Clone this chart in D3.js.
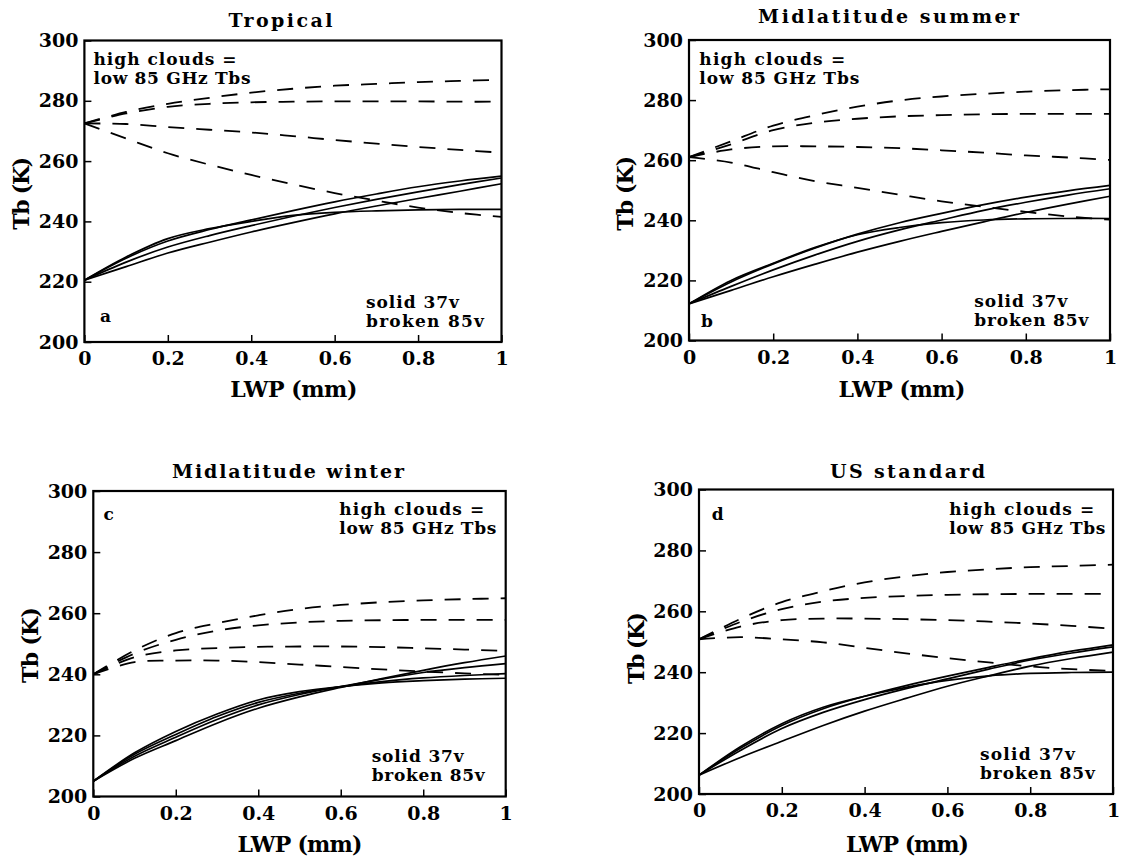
<!DOCTYPE html>
<html><head><meta charset="utf-8">
<script src="https://cdn.jsdelivr.net/npm/d3@7"></script>
<style>
body{margin:0;background:#fff}
svg{display:block;background:#fff}
text{font-family:"DejaVu Serif",serif;font-weight:bold;fill:#000}
.tick text{font-size:19px}
.title{font-size:19px}
.axtitle{font-size:22px}
.note{font-size:17px}
</style>
</head><body><svg id="chart" width="1121" height="858"></svg>
<script>
// ---------- data ----------
const lwp = [0, 0.1, 0.2, 0.3, 0.4, 0.5, 0.6, 0.7, 0.8, 0.9, 1.0];
const xTickValues = [0, 0.2, 0.4, 0.6, 0.8, 1];
const xTickLabels = ["0", "0.2", "0.4", "0.6", "0.8", "1"];
const yTickValues = [200, 220, 240, 260, 280, 300];
const panelTitles = ["Tropical", "Midlatitude summer", "Midlatitude winter", "US standard"];
const panelLetters = ["a", "b", "c", "d"];
const noteTop = ["high clouds =", "low 85 GHz Tbs"];
const noteBottom = ["solid 37v", "broken 85v"];
const xAxisTitle = "LWP (mm)";
const yAxisTitle = "Tb (K)";

// 37 GHz (solid) curves, Tb in K at each LWP
const tropical37v = [
  [220.5, 228.2, 234.3, 237.6, 240.0, 242.0, 243.0, 243.5, 243.8, 244.0, 244.0],
  [220.5, 227.8, 233.5, 237.3, 240.5, 243.6, 246.5, 249.1, 251.5, 253.4, 255.0],
  [220.5, 226.5, 231.5, 235.3, 238.6, 241.7, 244.6, 247.3, 249.8, 252.2, 254.4],
  [220.5, 225.0, 229.5, 233.1, 236.5, 239.6, 242.5, 245.1, 247.6, 250.0, 252.5]
];
const midSummer37v = [
  [212.2, 220.0, 225.7, 231.0, 235.2, 237.6, 239.2, 240.1, 240.5, 240.6, 240.6],
  [212.2, 219.5, 225.5, 230.8, 235.4, 239.2, 242.3, 245.2, 247.7, 249.8, 251.6],
  [212.2, 218.0, 223.5, 228.5, 233.0, 236.8, 240.1, 243.3, 246.0, 248.4, 250.5],
  [212.2, 216.7, 221.2, 225.4, 229.4, 233.0, 236.3, 239.5, 242.6, 245.4, 248.0]
];
const midWinter37v = [
  [205.0, 214.3, 221.3, 227.0, 231.6, 234.3, 236.0, 237.2, 237.9, 238.4, 238.7],
  [205.0, 213.8, 220.3, 226.2, 230.8, 233.8, 235.9, 237.6, 238.8, 239.6, 240.2],
  [205.0, 213.2, 219.4, 225.2, 230.0, 233.4, 236.0, 238.4, 240.6, 242.2, 243.5],
  [205.0, 212.5, 218.3, 224.0, 228.9, 232.6, 235.7, 238.6, 241.3, 243.8, 246.0]
];
const usStandard37v = [
  [206.2, 215.5, 223.1, 228.5, 232.1, 235.0, 237.3, 238.8, 239.6, 239.9, 240.0],
  [206.2, 215.0, 222.5, 228.0, 232.1, 235.6, 238.7, 241.6, 244.4, 246.9, 249.0],
  [206.2, 214.3, 221.5, 226.8, 231.0, 234.6, 237.8, 241.0, 244.0, 246.3, 248.3],
  [206.2, 212.0, 217.3, 222.5, 227.2, 231.4, 235.4, 238.8, 242.0, 244.5, 246.6]
];

// 85 GHz (broken) curves
const tropical85v = [
  [272.5, 276.3, 279.0, 281.0, 282.7, 284.0, 285.0, 285.6, 286.2, 286.6, 287.0],
  [272.5, 275.8, 278.0, 279.0, 279.5, 279.7, 279.8, 279.8, 279.8, 279.7, 279.7],
  [272.5, 272.3, 271.3, 270.4, 269.5, 268.3, 267.0, 265.8, 264.7, 263.7, 262.8],
  [272.5, 267.5, 262.6, 258.8, 255.4, 252.3, 249.4, 246.9, 244.6, 242.8, 241.5]
];
const midSummer85v = [
  [261.0, 266.3, 271.5, 275.0, 277.8, 279.9, 281.2, 282.1, 282.8, 283.3, 283.6],
  [261.0, 265.3, 270.0, 272.5, 273.8, 274.6, 275.0, 275.3, 275.4, 275.4, 275.4],
  [261.0, 263.6, 264.6, 264.6, 264.4, 264.0, 263.3, 262.5, 261.6, 260.9, 260.1],
  [261.0, 259.2, 256.0, 253.0, 250.8, 248.5, 246.3, 244.5, 242.8, 241.3, 240.2]
];
const midWinter85v = [
  [240.0, 247.8, 253.5, 256.7, 259.3, 261.4, 262.7, 263.6, 264.2, 264.6, 264.9],
  [240.0, 246.8, 251.3, 254.3, 256.0, 257.0, 257.5, 257.7, 257.8, 257.8, 257.8],
  [240.0, 245.6, 247.8, 248.6, 249.0, 249.1, 249.1, 248.9, 248.5, 248.1, 247.7],
  [240.0, 244.0, 244.5, 244.5, 244.0, 243.2, 242.4, 241.6, 240.9, 240.3, 239.8]
];
const usStandard85v = [
  [250.8, 257.5, 263.0, 266.6, 269.5, 271.5, 272.9, 273.8, 274.5, 274.9, 275.3],
  [250.8, 256.5, 260.7, 263.2, 264.4, 265.0, 265.4, 265.6, 265.7, 265.7, 265.7],
  [250.8, 255.0, 257.1, 257.6, 257.6, 257.4, 257.1, 256.6, 256.0, 255.2, 254.3],
  [250.8, 251.5, 250.8, 249.8, 248.0, 246.2, 244.6, 243.2, 241.9, 241.0, 240.4]
];

const solidSets = [tropical37v, midSummer37v, midWinter37v, usStandard37v];
const brokenSets = [tropical85v, midSummer85v, midWinter85v, usStandard85v];

// ---------- layout ----------
const boxes = [
  {left: 84.4, right: 501.5, top: 40.5, bottom: 342},
  {left: 689, right: 1110, top: 40, bottom: 340.5},
  {left: 93.3, right: 505.7, top: 491, bottom: 796.5},
  {left: 699, right: 1113, top: 489.5, bottom: 794}
];
const titlePos = [
  {x: 280.4, y: 27, w: 104}, {x: 888.6, y: 23, w: 261},
  {x: 288, y: 478, w: 232}, {x: 907.5, y: 478, w: 155}
];
const xTitlePos = [
  {x: 293.8, y: 396.7, w: 127}, {x: 902, y: 396.7, w: 127},
  {x: 300, y: 852, w: 125}, {x: 907.4, y: 852, w: 123}
];
const yTitlePos = [
  {x: 28.6, y: 193.3, w: 73}, {x: 633, y: 193.3, w: 75},
  {x: 37.5, y: 645, w: 76}, {x: 644, y: 648, w: 72}
];
const notePos = [
  {hx: 93.5, hy: 65, hw: 143, lw: 157, lx: 100, ly: 321.7, sx: 366, sy: 308.3, sw: 93, bw: 118},
  {hx: 699.3, hy: 65, hw: 146, lw: 160, lx: 701, ly: 326.7, sx: 974.3, sy: 306.7, sw: 93, bw: 114},
  {hx: 339.3, hy: 515, hw: 145, lw: 157, lx: 103.6, ly: 520, sx: 371.7, sy: 761.7, sw: 92, bw: 113},
  {hx: 949.3, hy: 515, hw: 145, lw: 156, lx: 711.8, ly: 520, sx: 980, sy: 760, sw: 95, bw: 115}
];

const svg = d3.select("#chart");

boxes.forEach((b, p) => {
  const x = d3.scaleLinear().domain([0, 1]).range([b.left, b.right]);
  const y = d3.scaleLinear().domain([200, 300]).range([b.bottom, b.top]);
  const g = svg.append("g");

  const line = d3.line().x((d, i) => x(lwp[i])).y(d => y(d)).curve(d3.curveCatmullRom.alpha(0.5));

  solidSets[p].forEach(s => {
    g.append("path").attr("d", line(s)).attr("fill", "none")
      .attr("stroke", "#000").attr("stroke-width", 1.7);
  });
  brokenSets[p].forEach(s => {
    g.append("path").attr("d", line(s)).attr("fill", "none")
      .attr("stroke", "#000").attr("stroke-width", 1.8)
      .attr("stroke-dasharray", "16,12");
  });

  const xAxis = d3.axisBottom(x).tickValues(xTickValues)
    .tickFormat((d, i) => xTickLabels[i]).tickSizeInner(-7).tickSizeOuter(0).tickPadding(10);
  const yAxis = d3.axisLeft(y).tickValues(yTickValues)
    .tickFormat(d3.format("d")).tickSizeInner(-7).tickSizeOuter(0).tickPadding(6);

  const gx = g.append("g").attr("transform", `translate(0,${b.bottom})`).call(xAxis);
  const gy = g.append("g").attr("transform", `translate(${b.left},0)`).call(yAxis);
  [gx, gy].forEach(a => {
    a.select(".domain").remove();
    a.attr("font-family", null).attr("font-size", null);
    a.selectAll(".tick line").attr("stroke-width", 1.5);
  });

  g.append("rect").attr("x", b.left).attr("y", b.top)
    .attr("width", b.right - b.left).attr("height", b.bottom - b.top)
    .attr("fill", "none").attr("stroke", "#000").attr("stroke-width", 2.2);

  const t = titlePos[p];
  g.append("text").attr("class", "title").attr("x", t.x).attr("y", t.y)
    .attr("text-anchor", "middle").attr("textLength", t.w).attr("lengthAdjust", "spacing")
    .text(panelTitles[p]);

  const xt = xTitlePos[p];
  g.append("text").attr("class", "axtitle").attr("x", xt.x).attr("y", xt.y)
    .attr("text-anchor", "middle").attr("textLength", xt.w).attr("lengthAdjust", "spacing")
    .text(xAxisTitle);

  const yt = yTitlePos[p];
  g.append("text").attr("class", "axtitle")
    .attr("transform", `translate(${yt.x},${yt.y}) rotate(-90)`)
    .attr("text-anchor", "middle").attr("textLength", yt.w).attr("lengthAdjust", "spacing")
    .text(yAxisTitle);

  const n = notePos[p];
  g.append("text").attr("class", "note").attr("x", n.hx).attr("y", n.hy)
    .attr("textLength", n.hw).attr("lengthAdjust", "spacing").text(noteTop[0]);
  g.append("text").attr("class", "note").attr("x", n.hx).attr("y", n.hy + 18.5)
    .attr("textLength", n.lw).attr("lengthAdjust", "spacing").text(noteTop[1]);
  g.append("text").attr("class", "note").attr("x", n.lx).attr("y", n.ly).text(panelLetters[p]);
  g.append("text").attr("class", "note").attr("x", n.sx).attr("y", n.sy)
    .attr("textLength", n.sw).attr("lengthAdjust", "spacing").text(noteBottom[0]);
  g.append("text").attr("class", "note").attr("x", n.sx).attr("y", n.sy + 19)
    .attr("textLength", n.bw).attr("lengthAdjust", "spacing").text(noteBottom[1]);
});
</script>
</body></html>
